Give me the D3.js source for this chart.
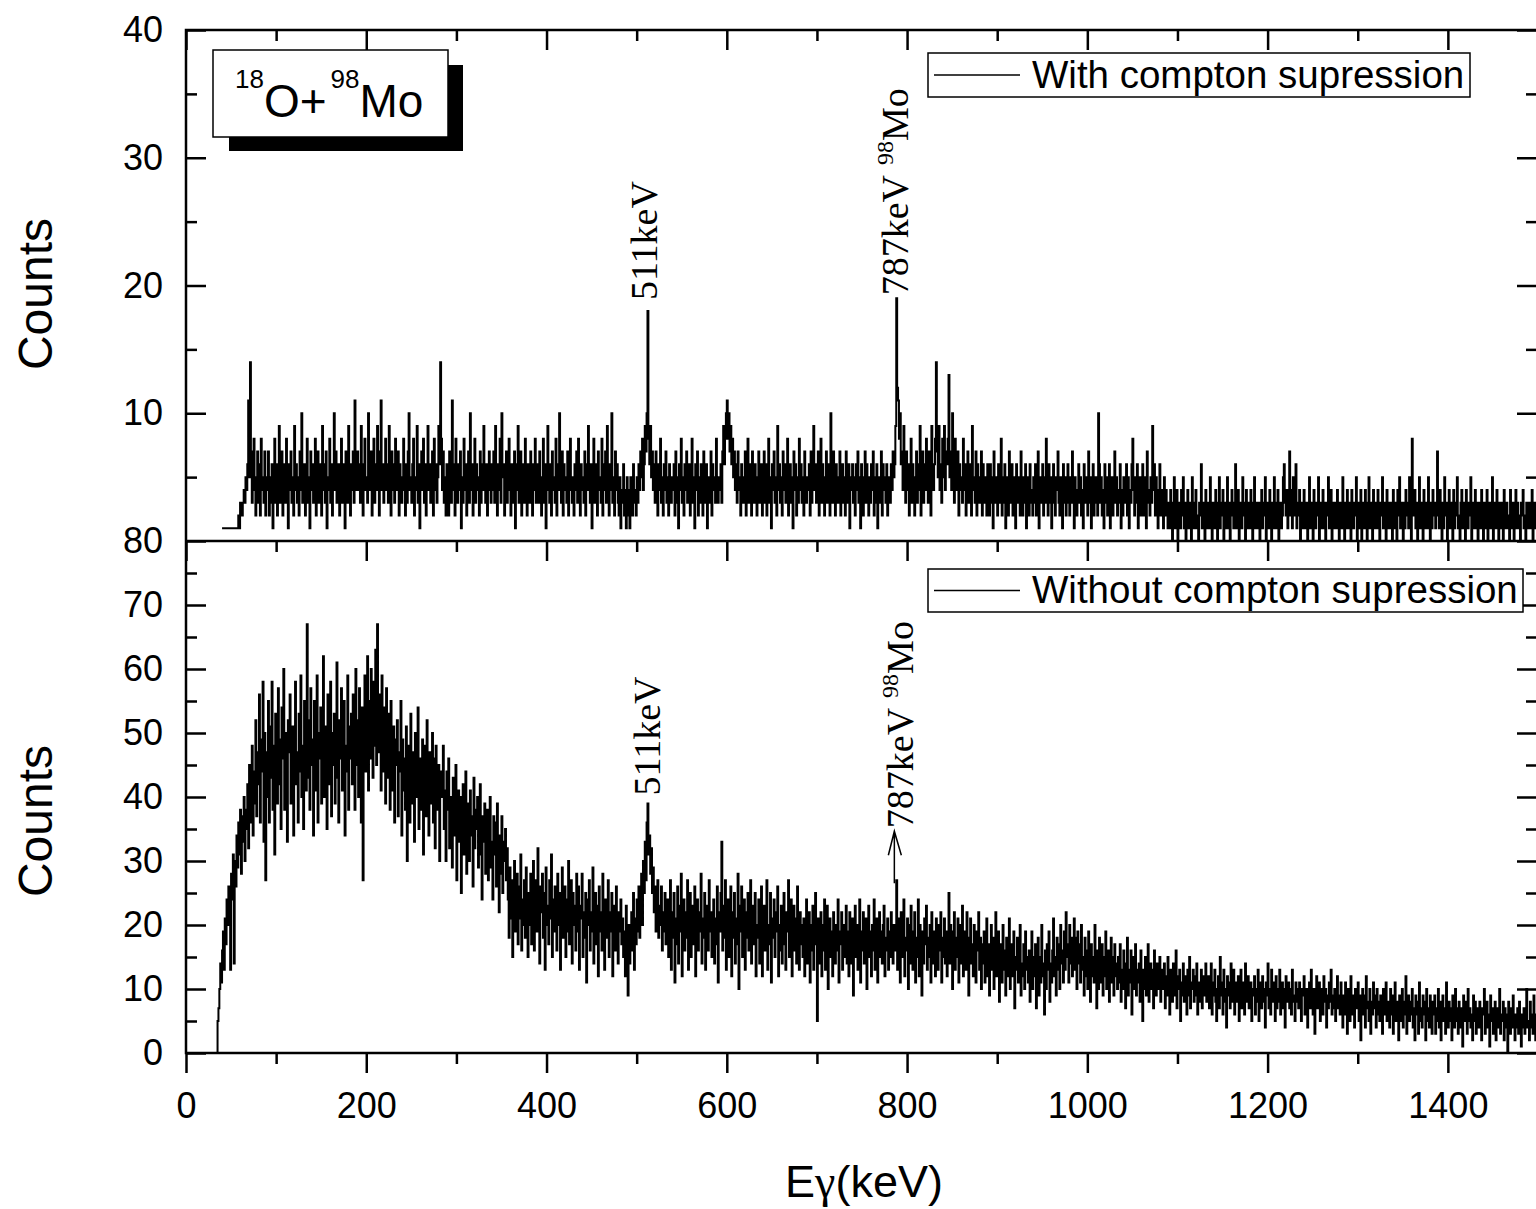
<!DOCTYPE html>
<html>
<head>
<meta charset="utf-8">
<script src="https://cdnjs.cloudflare.com/ajax/libs/d3/7.8.5/d3.min.js"></script>
<style>
  html, body { margin: 0; padding: 0; background: #fff; }
  svg { display: block; }
  text { fill: #000; }
</style>
</head>
<body>
<svg id="chart" width="1536" height="1209"></svg>
<script>
// ---------- data ----------
var energyTicks = [0, 200, 400, 600, 800, 1000, 1200, 1400];
var energyMinorTicks = [100, 300, 500, 700, 900, 1100, 1300, 1500];
var topCountTicks = [10, 20, 30, 40];
var topCountMinorTicks = [5, 15, 25, 35];
var bottomCountTicks = [0, 10, 20, 30, 40, 50, 60, 70, 80];
var bottomCountMinorTicks = [5, 15, 25, 35, 45, 55, 65, 75];

var channelWidth = 1;      // keV per channel
var withStart = 40;        // keV of first channel, suppressed spectrum
var withoutStart = 34;     // keV of first channel, unsuppressed spectrum

// counts with compton suppression (one row = 50 keV, from 40 keV)
var withSuppression = [
  1,1,1,1,1,1,1,1,1,1, 1,1,1,1,1,1,1,1,2,1, 3,2,2,3,4,3,5,4,6,11, 5,14,7,3,6,8,4,2,5,7, 3,6,2,8,4,5,3,7,2,5,
  4,7,2,5,3,6,1,5,8,3, 6,2,4,9,3,5,7,2,4,6, 3,8,5,1,6,4,7,3,5,2, 9,4,6,3,5,2,7,4,10,3, 5,6,2,4,8,3,5,1,7,4,
  6,3,5,8,2,4,7,3,6,5, 2,9,4,6,3,7,1,5,4,8, 3,6,2,5,10,4,7,3,5,6, 2,4,8,3,6,5,1,7,4,3, 9,5,2,6,4,7,3,11,5,4,
  7,4,6,3,9,5,2,6,8,4, 5,3,10,6,4,7,2,5,8,3, 6,4,9,5,2,7,11,4,6,3, 5,8,4,6,3,9,5,2,7,4, 6,3,8,5,4,7,2,6,5,3,
  4,8,5,2,6,3,7,10,4,5, 3,6,8,2,5,4,9,3,6,1, 5,7,4,8,3,6,2,5,9,4, 6,3,5,7,2,8,4,6,3,5, 9,6,14,8,4,7,3,5,2,6,
  5,2,7,4,3,11,6,4,2,8, 5,3,6,4,7,1,5,3,8,4, 6,2,5,7,3,10,4,6,2,5, 8,3,6,4,5,2,7,3,6,4, 9,5,3,6,2,4,7,5,3,6,
  4,7,3,9,5,2,6,4,8,3, 10,5,6,2,4,7,3,5,8,4, 2,6,5,3,7,1,6,4,9,3, 5,7,2,4,6,3,8,5,2,6, 4,3,7,5,2,6,4,8,3,5,
  6,3,7,4,2,5,8,3,6,1, 4,9,5,3,6,2,7,4,5,3, 8,2,6,4,10,5,3,7,2,6, 4,5,3,7,2,6,8,4,3,5, 2,6,4,7,3,8,5,2,6,4,
  5,3,7,2,6,4,9,5,3,6, 1,5,8,3,4,6,2,7,4,5, 3,8,2,6,4,7,3,9,5,2, 6,4,10,3,5,2,7,4,6,3, 2,5,1,4,3,6,2,4,1,5,
  2,4,1,5,3,2,6,3,4,2, 5,3,6,4,7,5,8,4,6,9, 7,10,18,8,6,9,5,7,4,6, 3,7,5,2,6,4,8,3,5,2, 6,4,7,3,5,2,6,4,3,5,
  4,6,2,7,3,5,1,6,4,8, 3,5,2,6,4,7,3,5,6,2, 4,8,3,5,1,6,4,7,2,5, 3,6,4,2,7,5,3,6,1,4, 5,3,7,2,6,4,5,3,8,4,
  3,5,4,6,3,7,9,6,8,10, 11,8,10,7,9,6,8,5,7,4, 6,3,7,4,5,2,6,4,3,5, 7,2,5,8,3,6,4,2,7,5, 3,6,4,2,5,7,3,4,6,2,
  5,7,3,6,2,4,8,3,5,1, 6,4,7,3,5,2,9,4,6,3, 5,2,7,4,6,3,5,8,2,4, 6,3,5,1,7,4,6,2,5,3, 8,4,6,3,5,2,7,4,3,5,
  4,6,2,7,3,5,9,4,6,3, 5,7,2,4,8,3,6,5,2,4, 7,3,5,6,2,10,4,3,7,5, 2,6,4,3,5,7,2,4,6,3, 5,2,7,4,3,6,1,5,4,6,
  3,5,2,6,4,7,3,5,1,6, 4,2,5,7,3,6,4,2,5,3, 6,4,7,2,5,3,6,1,4,5, 3,7,2,6,4,5,3,6,2,4, 5,3,6,4,7,5,6,9,19,12,
  11,8,10,6,7,4,9,5,3,7, 4,6,2,5,8,3,6,4,2,5, 7,3,6,4,9,2,5,7,3,6, 4,8,5,3,7,6,2,9,5,4, 6,8,14,7,5,9,4,6,3,8,
  5,9,4,7,6,8,13,5,7,4, 10,6,3,8,5,4,7,2,6,4, 5,3,8,4,6,2,5,7,3,4, 6,2,9,4,5,3,7,2,6,4, 3,5,7,2,6,4,3,5,2,6,
  4,2,6,3,5,1,7,4,3,5, 2,6,4,3,8,2,5,3,6,1, 4,5,2,7,3,4,6,2,5,3, 1,6,4,3,5,2,7,4,2,5, 3,6,1,4,5,2,6,3,4,2,
  5,3,6,2,4,7,1,5,3,4, 6,2,5,3,8,4,2,6,3,5, 1,4,6,3,2,5,4,7,3,2, 5,4,1,6,3,5,2,4,6,3, 2,5,3,7,4,1,5,3,2,4,
  6,3,5,2,4,1,6,3,5,4, 2,7,3,5,1,4,6,2,3,5, 4,2,10,6,3,5,2,4,1,6, 3,5,2,4,6,1,3,5,2,4, 7,3,5,2,4,3,6,1,4,2,
  5,3,4,6,2,5,1,4,3,6, 8,4,2,5,3,6,1,4,5,2, 3,6,2,4,5,1,7,3,4,2, 5,3,9,4,6,2,5,3,1,4, 6,2,4,3,1,5,2,4,3,1,
  3,1,4,2,0,3,5,1,2,4, 0,3,2,1,4,2,5,1,3,0, 2,4,1,3,2,0,5,2,1,3, 4,1,2,0,3,2,6,1,3,2, 0,4,1,2,3,1,5,2,0,3,
  2,1,4,3,0,2,5,1,3,2, 4,0,3,1,2,5,1,3,0,2, 4,2,1,3,6,1,2,4,0,3, 2,1,5,2,3,0,4,1,2,3, 1,4,2,0,3,5,1,2,3,1,
  3,0,2,4,1,3,2,5,0,2, 3,1,4,2,0,3,1,5,2,1, 3,4,0,2,3,1,2,5,6,3, 2,4,1,3,7,2,4,1,5,3, 2,6,1,3,2,4,0,3,2,1,
  4,2,1,3,0,2,5,1,3,2, 0,4,2,1,3,2,5,0,3,1, 2,4,1,3,0,2,3,5,1,2, 4,0,3,1,2,3,1,4,2,0, 3,2,1,5,2,0,3,1,4,2,
  1,3,0,4,2,1,3,2,5,0, 3,1,2,4,0,3,2,1,4,2, 0,3,5,1,2,3,0,4,1,2, 3,1,4,2,0,3,2,5,1,3, 2,0,4,1,3,2,1,3,0,4,
  2,1,3,0,4,2,5,1,3,2, 0,3,1,4,2,3,1,5,2,0, 8,3,2,4,1,3,0,2,5,1, 3,2,0,4,1,3,2,1,5,2, 0,3,1,4,2,3,1,2,7,3,
  1,4,2,0,3,1,5,2,3,0, 2,4,1,3,2,0,4,1,3,2, 5,1,2,0,3,4,1,2,3,0, 4,2,1,3,2,5,0,3,1,2, 4,1,3,0,2,3,1,4,2,0,
  3,1,2,4,0,3,2,1,3,5, 0,2,3,1,4,2,0,3,1,2, 3,0,4,1,2,3,1,2,0,4, 2,1,3,0,2,4,1,3,2,1, 0,3,2,4,1,2,0,3,1,2,
  3,1,2,4,0,2,3,1,2,0,2
];

// counts without compton suppression (one row = 50 keV, from 34 keV)
var withoutSuppression = [
  0,5,7,10,14,11,16,19,13,21, 17,24,20,26,22,13,28,24,31,14, 30,26,34,29,36,31,38,28,37,33, 40,30,38,35,42,32,45,36,41,48, 34,44,39,52,37,47,42,56,36,49,
  44,58,33,50,27,47,40,55,36,51, 43,58,38,48,31,53,45,39,57,42, 49,35,54,46,60,38,50,44,33,52, 47,56,39,45,51,34,49,58,42,47, 36,53,44,59,40,48,35,55,46,41,
  67,43,52,38,57,45,49,34,55,47, 41,59,36,50,46,54,39,48,62,40, 51,44,35,56,48,42,58,37,50,45, 53,39,47,61,43,36,52,46,57,41, 49,55,34,48,44,59,38,51,46,53,
  42,56,47,38,60,45,52,40,57,48, 36,54,27,50,59,44,49,62,41,55, 46,60,51,43,58,48,63,45,67,52, 47,56,41,59,50,44,54,39,57,48, 43,53,38,55,47,41,51,36,49,45,
  52,37,47,44,55,34,49,41,46,38, 51,30,45,48,36,53,42,39,47,33, 50,44,40,54,35,46,43,38,49,31, 45,48,37,52,41,34,47,44,39,50, 36,46,32,48,42,38,45,30,44,40,
  43,48,35,41,30,44,38,46,32,40, 36,29,43,39,34,45,27,37,41,33, 40,25,38,42,31,36,44,28,39,35, 30,41,34,37,26,43,32,38,35,40, 29,36,42,31,24,37,33,39,28,35,
  38,27,35,40,29,33,24,37,31,36, 26,39,30,22,34,28,37,25,33,30, 35,27,32,24,18,29,21,27,15,25, 30,19,23,28,17,26,21,31,16,24, 20,27,18,29,22,15,25,20,28,17,
  24,30,16,23,27,19,32,21,14,26, 22,28,18,25,13,29,20,23,17,27, 21,31,15,24,19,26,22,16,28,20, 25,13,23,29,18,21,26,15,24,19, 30,17,22,27,14,25,20,23,16,28,
  19,26,13,23,21,28,15,22,18,25, 11,24,20,27,16,22,19,29,14,21, 25,17,23,12,26,19,22,16,28,20, 13,24,18,21,27,15,22,19,25,12, 20,23,16,26,18,14,22,19,24,17,
  21,15,19,12,23,17,9,20,14,18, 22,16,25,13,21,17,24,19,26,18, 23,28,20,30,25,33,27,36,39,31, 34,28,32,25,29,22,26,19,24,27, 18,23,20,26,16,22,19,25,17,21,
  24,15,20,27,13,22,18,25,11,21, 17,26,14,23,19,28,12,20,24,16, 22,18,27,13,21,25,15,19,23,17, 26,12,20,24,16,22,19,28,14,21, 18,25,13,23,20,16,27,19,22,15,
  20,24,14,21,17,26,11,22,19,25, 33,16,23,18,27,13,21,24,15,20, 26,12,22,18,25,14,21,17,28,10, 23,19,26,15,20,24,13,22,18,25, 16,21,27,14,19,23,17,25,12,20,
  18,24,14,21,26,12,19,23,16,22, 27,13,20,17,25,11,21,18,24,15, 22,19,26,12,20,16,23,14,21,25, 17,13,22,19,27,15,20,24,12,18, 23,16,21,14,26,19,13,22,17,20,
  15,21,12,19,24,14,18,22,11,20, 16,23,13,19,25,17,5,21,14,18, 22,12,20,16,24,13,19,23,10,17, 21,15,19,12,22,18,14,20,16,24, 11,19,17,22,13,20,15,18,23,14,
  19,12,22,17,14,21,9,18,23,15, 20,13,17,24,11,19,16,22,14,18, 21,10,17,23,15,19,12,20,16,24, 13,18,21,11,17,22,15,19,14,20, 23,12,18,16,21,13,19,15,22,17,
  14,20,16,19,27,13,21,17,11,22, 15,19,24,12,18,16,21,10,20,14, 23,17,13,19,22,11,18,15,24,12, 20,16,9,19,14,21,17,23,13,18, 15,20,11,22,16,14,19,12,21,17,
  13,20,16,22,11,18,15,21,14,19, 12,17,25,14,20,16,10,19,22,13, 18,15,21,11,17,20,14,23,12,16, 19,13,22,15,9,18,21,14,17,12, 20,15,11,19,16,22,13,18,10,17,
  14,19,11,16,21,12,17,9,15,20, 13,18,10,16,22,12,14,19,8,15, 17,11,20,13,16,9,18,12,15,21, 10,14,17,12,19,7,15,13,18,11, 16,20,9,14,12,17,10,19,13,15,
  11,16,8,14,19,10,15,12,17,7, 13,18,9,15,11,20,12,14,6,16, 10,17,13,19,8,14,11,16,21,12, 15,9,18,13,17,10,20,14,16,11, 19,13,22,15,17,11,20,14,18,12,
  16,21,13,18,10,19,14,17,11,20, 13,15,9,18,12,16,10,19,14,8, 17,12,15,11,20,13,7,16,10,18, 14,11,17,9,15,12,19,10,14,16, 8,13,18,11,15,9,17,12,14,10,
  15,11,17,8,13,10,16,12,7,14, 18,9,13,11,16,6,12,15,10,17, 9,13,11,14,8,16,12,5,13,10, 15,9,12,17,8,11,14,10,13,7, 16,11,9,14,12,10,15,8,13,11,
  10,14,7,12,9,15,11,6,13,10, 8,14,11,9,16,7,12,10,13,5, 11,9,14,8,12,10,6,13,9,15, 7,11,10,13,8,12,9,14,6,11, 10,8,13,7,12,9,11,14,8,10,
  12,7,10,14,6,11,9,13,8,5, 10,12,7,15,9,11,6,13,8,10, 4,12,9,11,7,14,8,10,13,6, 9,11,8,12,5,10,13,7,9,11, 6,14,8,10,12,7,9,11,5,10,
  9,12,6,10,8,13,5,11,9,7, 12,8,10,4,11,9,14,7,10,6, 13,8,11,9,5,12,7,10,8,13, 6,9,11,7,10,4,12,8,9,11, 7,10,6,13,8,9,5,11,8,10,
  7,11,8,5,10,9,12,6,8,10, 4,9,11,7,13,8,6,10,3,9, 12,7,8,11,5,10,9,6,12,8, 10,4,9,7,11,8,13,6,9,7, 10,5,8,12,7,9,6,11,8,4,
  9,6,11,7,3,10,8,5,12,7, 6,9,4,10,8,7,11,5,9,2, 8,10,6,9,4,12,7,8,5,10, 3,8,6,11,7,9,4,10,6,8, 5,9,7,3,10,6,8,11,5,7,
  8,4,10,6,9,3,7,11,5,8, 6,2,9,7,5,10,4,8,6,12, 3,7,9,5,8,6,10,4,7,2, 9,6,8,3,11,5,7,4,9,6, 8,2,10,5,7,4,9,6,3,8,
  6,9,3,7,5,10,4,8,2,6, 9,5,7,3,11,6,4,8,5,7, 2,9,6,4,10,5,7,3,8,6, 4,7,1,9,5,6,8,3,10,5, 7,4,6,2,9,5,8,3,6,7,
  4,8,5,2,7,6,10,3,5,8, 4,6,1,9,5,7,3,6,8,2, 5,7,4,10,3,6,5,8,2,7, 4,6,0,8,5,3,7,4,9,5, 2,6,4,7,3,8,5,1,6,4,
  7,3,6,10,4,5,2,8,4,6,3,9,5,2,6,4,7
];

var peakEnergies = [511, 787];

// ---------- layout ----------
var sans = '"Liberation Sans", Arial, sans-serif';
var serif = '"Liberation Serif", "Times New Roman", serif';
var svg = d3.select('#chart');

var x = d3.scaleLinear().domain([0, 1500]).range([186, 1538]);
var yTop = d3.scaleLinear().domain([0, 40]).range([541, 30]);
var yBot = d3.scaleLinear().domain([0, 80]).range([1053, 541]);

var frameWidth = 2.5;
var majorLen = 20, minorLen = 11;
var tickFont = 36;

/**
 * Append an axis, strip its domain and style ticks / labels
 */
function addAxis(axis, tx, ty) {
  var g = svg.append('g')
    .attr('transform', 'translate(' + tx + ',' + ty + ')')
    .call(axis);
  g.select('.domain').remove();
  g.attr('font-family', sans).attr('font-size', tickFont);
  g.selectAll('line').attr('stroke', '#000').attr('stroke-width', frameWidth);
  g.selectAll('text').attr('fill', '#000');
  return g;
}

// ---------- spectra ----------
svg.append('clipPath').attr('id', 'clipTop')
  .append('rect').attr('x', 186).attr('y', 30).attr('width', 1352).attr('height', 511);
svg.append('clipPath').attr('id', 'clipBot')
  .append('rect').attr('x', 186).attr('y', 541).attr('width', 1352).attr('height', 512);

var lineTop = d3.line()
  .x(function(d, i) { return x(withStart + i * channelWidth); })
  .y(function(d) { return yTop(d); })
  .curve(d3.curveStepAfter);
var lineBot = d3.line()
  .x(function(d, i) { return x(withoutStart + i * channelWidth); })
  .y(function(d) { return yBot(d); })
  .curve(d3.curveStepAfter);

svg.append('path').datum(withSuppression)
  .attr('clip-path', 'url(#clipTop)')
  .attr('d', lineTop)
  .attr('fill', 'none').attr('stroke', '#000').attr('stroke-width', 2);
svg.append('path').datum(withoutSuppression)
  .attr('clip-path', 'url(#clipBot)')
  .attr('d', lineBot)
  .attr('fill', 'none').attr('stroke', '#000').attr('stroke-width', 2);

// ---------- axes ----------
var noLabel = function() { return ''; };
var plain = d3.format('d');

// left axes, ticks pointing inward
addAxis(d3.axisLeft(yTop).tickValues(topCountTicks).tickSize(-majorLen).tickPadding(23).tickFormat(plain), 186, 0);
addAxis(d3.axisLeft(yTop).tickValues(topCountMinorTicks).tickSize(-minorLen).tickFormat(noLabel), 186, 0);
addAxis(d3.axisLeft(yBot).tickValues(bottomCountTicks).tickSize(-majorLen).tickPadding(23).tickFormat(plain), 186, 0);
addAxis(d3.axisLeft(yBot).tickValues(bottomCountMinorTicks).tickSize(-minorLen).tickFormat(noLabel), 186, 0);

// right axes, ticks pointing inward
addAxis(d3.axisRight(yTop).tickValues(topCountTicks).tickSize(-majorLen).tickFormat(noLabel), 1537, 0);
addAxis(d3.axisRight(yTop).tickValues(topCountMinorTicks).tickSize(-minorLen).tickFormat(noLabel), 1537, 0);
addAxis(d3.axisRight(yBot).tickValues(bottomCountTicks).tickSize(-majorLen).tickFormat(noLabel), 1537, 0);
addAxis(d3.axisRight(yBot).tickValues(bottomCountMinorTicks).tickSize(-minorLen).tickFormat(noLabel), 1537, 0);

// top axis, ticks inward
addAxis(d3.axisTop(x).tickValues(energyTicks).tickSize(-majorLen).tickFormat(noLabel), 0, 30);
addAxis(d3.axisTop(x).tickValues(energyMinorTicks).tickSize(-minorLen).tickFormat(noLabel), 0, 30);
// middle axis, ticks down
addAxis(d3.axisBottom(x).tickValues(energyTicks).tickSize(majorLen).tickFormat(noLabel), 0, 541);
addAxis(d3.axisBottom(x).tickValues(energyMinorTicks).tickSize(minorLen).tickFormat(noLabel), 0, 541);
// bottom axis, ticks outward
addAxis(d3.axisBottom(x).tickValues(energyTicks).tickSize(majorLen).tickPadding(19).tickFormat(plain), 0, 1053);
addAxis(d3.axisBottom(x).tickValues(energyMinorTicks).tickSize(minorLen).tickFormat(noLabel), 0, 1053);

// frame lines
var frame = svg.append('g').attr('stroke', '#000').attr('stroke-width', frameWidth).attr('fill', 'none');
frame.append('rect').attr('x', x(0)).attr('y', yTop(40)).attr('width', x(1500) - x(0)).attr('height', yBot(0) - yTop(40));
frame.append('line').attr('x1', x(0)).attr('x2', x(1500)).attr('y1', yTop(0)).attr('y2', yTop(0));

// axis titles
svg.append('text').attr('transform', 'translate(52,294) rotate(-90)')
  .attr('text-anchor', 'middle').attr('font-family', sans).attr('font-size', 48).text('Counts');
svg.append('text').attr('transform', 'translate(52,821) rotate(-90)')
  .attr('text-anchor', 'middle').attr('font-family', sans).attr('font-size', 48).text('Counts');
var xTitle = svg.append('text').attr('x', 864).attr('y', 1197)
  .attr('text-anchor', 'middle').attr('font-family', sans).attr('font-size', 45);
xTitle.append('tspan').text('E');
xTitle.append('tspan').attr('font-family', serif).attr('font-size', 46).text('\u03b3');
xTitle.append('tspan').text('(keV)');

// ---------- legends ----------
function legend(bx, by, bw, bh, label) {
  var g = svg.append('g');
  g.append('rect').attr('x', bx).attr('y', by).attr('width', bw).attr('height', bh)
    .attr('fill', '#fff').attr('stroke', '#000').attr('stroke-width', 1.5);
  g.append('line').attr('x1', bx + 6).attr('x2', bx + 92)
    .attr('y1', by + bh / 2).attr('y2', by + bh / 2)
    .attr('stroke', '#000').attr('stroke-width', 1.5);
  g.append('text').attr('x', bx + 104).attr('y', by + bh - 9)
    .attr('font-family', sans).attr('font-size', 38.5).text(label);
}
legend(928, 53, 542, 44, 'With compton supression');
legend(928, 569, 595, 43, 'Without compton supression');

// ---------- reaction box ----------
svg.append('rect').attr('x', 229).attr('y', 65).attr('width', 234).attr('height', 86).attr('fill', '#000');
svg.append('rect').attr('x', 213).attr('y', 50).attr('width', 235).attr('height', 87)
  .attr('fill', '#fff').attr('stroke', '#000').attr('stroke-width', 1.5);
var reaction = svg.append('text').attr('x', 235).attr('y', 117)
  .attr('font-family', sans).attr('font-size', 46);
reaction.append('tspan').attr('font-size', 26).attr('dy', -29).text('18');
reaction.append('tspan').attr('dy', 29).text('O+');
reaction.append('tspan').attr('font-size', 26).attr('dx', 4).attr('dy', -29).text('98');
reaction.append('tspan').attr('dy', 29).text('Mo');

// ---------- peak labels ----------
function peakLabel(px, py, parts) {
  var t = svg.append('text')
    .attr('transform', 'translate(' + px + ',' + py + ') rotate(-90)')
    .attr('font-family', serif).attr('font-size', 38);
  t.append('tspan').text(parts[0]);
  if (parts.length > 1) {
    t.append('tspan').attr('font-size', 24).attr('dx', 10).attr('dy', -15).text(parts[1]);
    t.append('tspan').attr('dy', 15).text(parts[2]);
  }
}
peakLabel(x(peakEnergies[0]) + 10, yTop(18) - 11, ['511keV']);
peakLabel(x(peakEnergies[1]) + 13, yTop(19) - 3, ['787keV', '98', 'Mo']);
peakLabel(x(peakEnergies[0]) + 13, yBot(39) - 8, ['511keV']);
peakLabel(x(peakEnergies[1]) + 18, yBot(27) - 52, ['787keV', '98', 'Mo']);

// arrow pointing at the 787 keV line in the unsuppressed spectrum
var ax = x(peakEnergies[1]) - 1;
svg.append('path')
  .attr('d', 'M' + ax + ',' + (yBot(27) + 3) + 'V' + (yBot(27) - 49) +
    'M' + (ax - 6) + ',' + (yBot(27) - 25) + 'L' + ax + ',' + (yBot(27) - 49) + 'L' + (ax + 7) + ',' + (yBot(27) - 25))
  .attr('fill', 'none').attr('stroke', '#000').attr('stroke-width', 1.5);
</script>
</body>
</html>
